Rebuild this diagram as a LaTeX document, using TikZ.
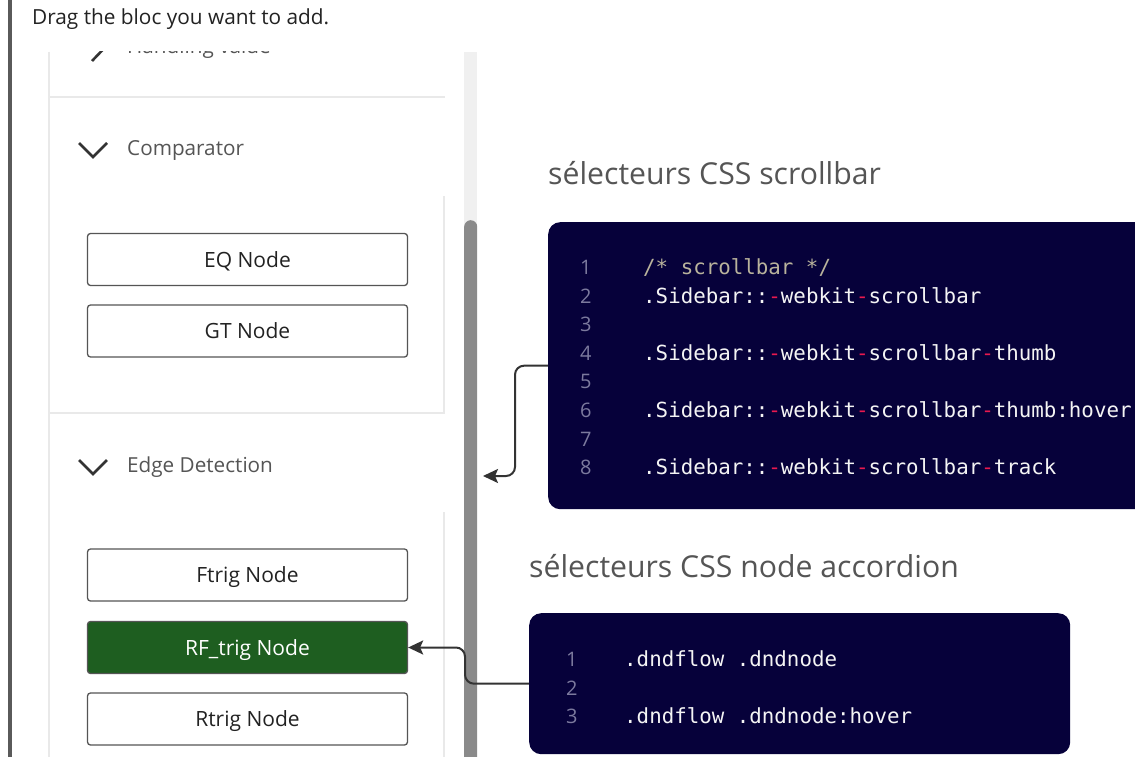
\documentclass[tikz,border=0pt]{standalone}
\usepackage{fontspec}
\setmainfont{Open Sans}
\setmonofont{DejaVu Sans Mono}
\usetikzlibrary{arrows.meta}
\definecolor{navy}{HTML}{06013A}
\definecolor{numcol}{HTML}{7C7A9E}
\definecolor{comcol}{HTML}{B9B39C}
\definecolor{codered}{HTML}{E8194F}
\definecolor{codewhite}{HTML}{F4F4F4}
\definecolor{leftbar}{HTML}{5A5A5A}
\definecolor{sepcol}{HTML}{E9E9E9}
\definecolor{trackcol}{HTML}{F0F0F0}
\definecolor{thumbcol}{HTML}{8A8A8A}
\definecolor{txtdark}{HTML}{222222}
\definecolor{txtmid}{HTML}{555555}
\definecolor{btnborder}{HTML}{555555}
\definecolor{greenbtn}{HTML}{1E5E20}
\definecolor{conncol}{HTML}{333333}
\newcommand\rdash{\textcolor{codered}{-}}
\tikzset{
  sep/.style={draw=sepcol, line width=1.2pt},
  chev/.style={draw=conncol, line width=2.6pt},
  sect/.style={anchor=base west, inner sep=0pt, text=txtmid, font=\fontsize{20.7}{24}\selectfont},
  btn/.style={draw=btnborder, line width=1.3pt, rounded corners=3pt, minimum width=320pt, minimum height=52pt, inner sep=0pt, text height=15pt, text depth=0pt, fill=white, text=txtdark, font=\fontsize{21}{24}\selectfont},
  greenstyle/.style={fill=greenbtn, text=white},
  title/.style={anchor=base west, inner sep=0pt, text=txtmid, font=\fontsize{30.2}{34}\selectfont},
  codebox/.style={fill=navy, rounded corners=12pt, inner sep=0pt, anchor=north west},
  lnum/.style={anchor=base west, inner sep=0pt, text=numcol, font=\fontsize{20}{24}\selectfont},
  code/.style={anchor=base west, inner sep=0pt, text=codewhite, font=\ttfamily\fontsize{20.8}{24}\selectfont},
  conn/.style={draw=conncol, line width=2pt, rounded corners=9pt, -{Stealth[length=15pt,width=14pt,inset=3pt]}}
}
\begin{document}
\begin{tikzpicture}[x=1pt,y=-1pt]
\useasboundingbox (0,0) rectangle (1135,757);
\clip (0,0) rectangle (1135,757);
\fill[white] (0,0) rectangle (1135,757);

% left window border
\fill[leftbar] (8,0) rectangle (12,757);

% header text
\node[anchor=base west, inner sep=0pt, text=txtdark, font=\fontsize{20.8}{24}\selectfont] (hdr) at (32,25) {Drag the bloc you want to add.};

% sidebar (clipped at its top)
\begin{scope}
\clip (40,52) rectangle (500,757);
\node[sect] (hv) at (127,53.5) {Handling value};
\draw[chev] (92,38) -- (103,49.5) -- (92,61);
\end{scope}

% sidebar borders
\draw[sep] (49,52) -- (49,757);
\draw[sep] (49,97) -- (445,97);
\draw[sep] (444,196) -- (444,413) -- (49,413);
\draw[sep] (444,512) -- (444,757);

% scrollbar
\fill[trackcol] (464,52) rectangle (477,757);
\node[fill=thumbcol, rounded corners=6.5pt, minimum width=13pt, minimum height=560pt, inner sep=0pt, anchor=north west] (thumb) at (464,220) {};

% section headers
\draw[chev] (79,143) -- (93,157) -- (107,143);
\node[sect] (comp) at (127,156) {Comparator};
\draw[chev] (79,460) -- (93,474) -- (107,460);
\node[sect] (edge) at (127,472) {Edge Detection};

% buttons
\node[btn] (eq) at (247.5,259.5) {EQ Node};
\node[btn] (gt) at (247.5,331) {GT Node};
\node[btn] (ftrig) at (247.5,575) {Ftrig Node};
\node[btn, greenstyle] (rf) at (247.5,647.5) {RF\_trig Node};
\node[btn] (rtrig) at (247.5,719) {Rtrig Node};

% titles
\node[title] (t1) at (548,184) {sélecteurs CSS scrollbar};
\node[title] (t2) at (529,577) {sélecteurs CSS node accordion};

% code box 1
\node[codebox, minimum width=620pt, minimum height=287pt] (box1) at (548,222) {};
\foreach \i/\t in {1/{\textcolor{comcol}{/* scrollbar */}},
                   2/{.Sidebar::\rdash webkit\rdash scrollbar},
                   3/{},
                   4/{.Sidebar::\rdash webkit\rdash scrollbar\rdash thumb},
                   5/{},
                   6/{.Sidebar::\rdash webkit\rdash scrollbar\rdash thumb:hover},
                   7/{},
                   8/{.Sidebar::\rdash webkit\rdash scrollbar\rdash track}}{
  \node[lnum] (na\i) at (580,{274.5+(\i-1)*28.6}) {\i};
  \node[code] (ca\i) at (643,{274.5+(\i-1)*28.6}) {\t};
}

% code box 2
\node[codebox, minimum width=541pt, minimum height=141pt] (box2) at (529,613) {};
\foreach \i/\t in {1/{.dndflow .dndnode}, 2/{}, 3/{.dndflow .dndnode:hover}}{
  \node[lnum] (nb\i) at (566,{666.5+(\i-1)*28.5}) {\i};
  \node[code] (cb\i) at (624,{666.5+(\i-1)*28.5}) {\t};
}

% connectors
\coordinate (sbtip) at (483,476);
\draw[conn] (box1.west) -- ++(-33,0) |- (sbtip);
\draw[conn] (box2.west) -- ++(-64,0) |- (rf.east);
\end{tikzpicture}
\end{document}
